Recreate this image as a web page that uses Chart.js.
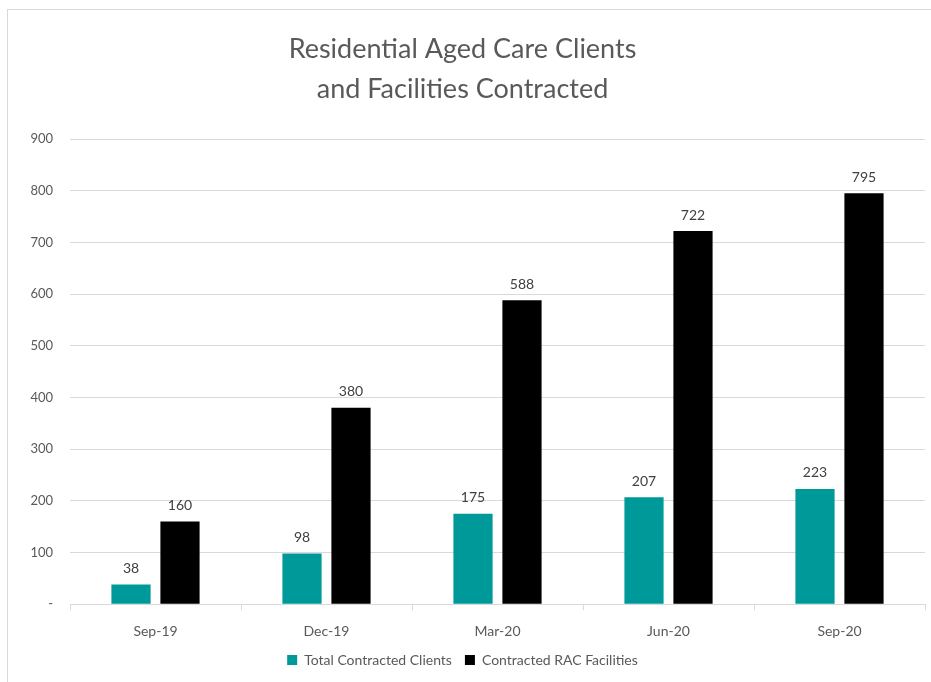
<!DOCTYPE html>
<html>
<head>
<meta charset="utf-8">
<script src="https://cdn.jsdelivr.net/npm/chart.js@4.4.1/dist/chart.umd.min.js"></script>
<style>
  html, body { margin: 0; padding: 0; background: #fff; }
  #frame { position: absolute; left: 7px; top: 9px; width: 940px; height: 700px;
           border-left: 1px solid #d9d9d9; border-top: 1px solid #d9d9d9; }
  #wrap { position: absolute; left: 0; top: 0; width: 931px; height: 682px; }
</style>
</head>
<body>
<div id="frame"></div>
<div id="wrap"><canvas id="myChart" width="931" height="682"></canvas></div>
<script>
var quarters = ['Sep-19', 'Dec-19', 'Mar-20', 'Jun-20', 'Sep-20'];
var clients = [38, 98, 175, 207, 223];
var facilities = [160, 380, 588, 722, 795];
var titleLines = ['Residential Aged Care Clients', 'and Facilities Contracted'];

var fontFamily = "'Liberation Sans Narrow', 'Lato', sans-serif";
var textGrey = '#595959';

// labels above the bars
var barValues = {
    id: 'barValues',
    afterDatasetsDraw: function (chart) {
        var ctx = chart.ctx;
        ctx.save();
        ctx.font = '14px ' + fontFamily;
        ctx.fillStyle = '#404040';
        ctx.textAlign = 'center';
        ctx.textBaseline = 'bottom';
        chart.data.datasets.forEach(function (ds, i) {
            chart.getDatasetMeta(i).data.forEach(function (bar, j) {
                ctx.fillText(ds.data[j], bar.x, bar.y - 9);
            });
        });
        ctx.restore();
    }
};

var ctx = document.getElementById('myChart').getContext('2d');
var mychart = new Chart(ctx, {
    type: 'bar',
    data: {
        labels: quarters,
        datasets: [{
            label: 'Total Contracted Clients',
            data: clients,
            backgroundColor: '#009999',
            categoryPercentage: 0.573,
            barPercentage: 0.8
        }, {
            label: 'Contracted RAC Facilities',
            data: facilities,
            backgroundColor: '#000000',
            categoryPercentage: 0.573,
            barPercentage: 0.8
        }]
    },
    options: {
        responsive: false,
        animation: false,
        layout: { padding: { left: 0, right: 6, top: 10, bottom: 5 } },
        plugins: {
            title: {
                display: true,
                text: titleLines,
                color: textGrey,
                font: { family: fontFamily, size: 27, weight: 'normal', lineHeight: 1.5 },
                padding: { top: 19, bottom: 29 }
            },
            legend: {
                position: 'bottom',
                labels: {
                    color: textGrey,
                    font: { family: fontFamily, size: 14 },
                    boxWidth: 10,
                    boxHeight: 10,
                    padding: 13
                }
            },
            tooltip: { enabled: false }
        },
        scales: {
            x: {
                afterFit: function (scale) { scale.height -= 13; },
                grid: { display: true, drawOnChartArea: false, color: '#d9d9d9', tickLength: 6, offset: true },
                border: { color: '#d9d9d9' },
                ticks: { color: textGrey, font: { family: fontFamily, size: 14 }, padding: 13 }
            },
            y: {
                min: 0,
                max: 900,
                afterFit: function (scale) { scale.width = 70; },
                grid: { color: '#d9d9d9', drawTicks: false },
                border: { display: false },
                ticks: {
                    stepSize: 100,
                    color: textGrey,
                    font: { family: fontFamily, size: 13 },
                    padding: 17,
                    callback: function (v) { return v === 0 ? '-' : v; }
                }
            }
        }
    },
    plugins: [barValues]
});
</script>
</body>
</html>
